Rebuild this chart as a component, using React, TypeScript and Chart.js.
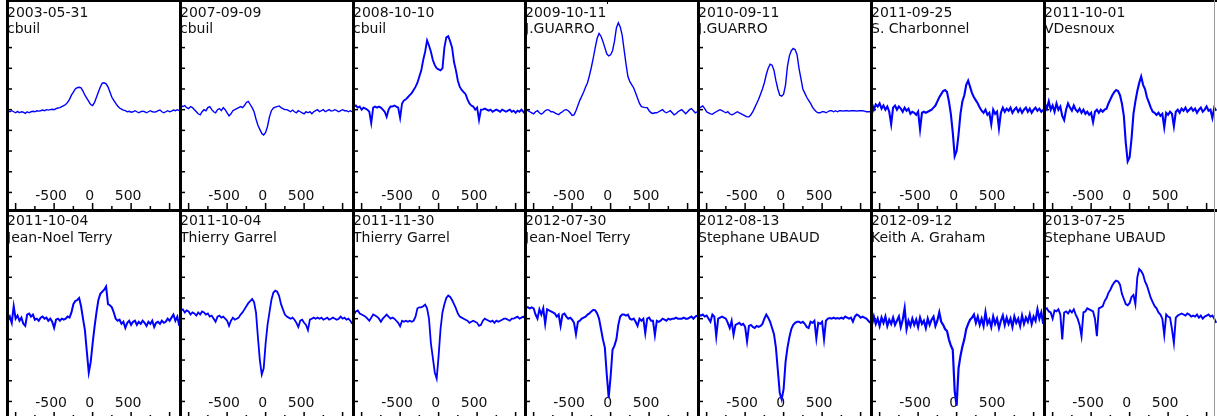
import React, { useEffect, useRef } from "react";
import { Chart, registerables } from "chart.js";

Chart.register(...registerables);

// Radial velocity grid (km/s) shared by all spectra
const velocity = [
  -1125, -1100, -1075, -1050, -1025, -1000, -975, -950, -925, -900,
  -875, -850, -825, -800, -775, -750, -725, -700, -675, -650,
  -625, -600, -575, -550, -525, -500, -475, -450, -425, -400,
  -375, -350, -325, -300, -275, -250, -225, -200, -175, -150,
  -125, -100, -75, -50, -25, 0, 25, 50, 75, 100,
  125, 150, 175, 200, 225, 250, 275, 300, 325, 350,
  375, 400, 425, 450, 475, 500, 525, 550, 575, 600,
  625, 650, 675, 700, 725, 750, 775, 800, 825, 850,
  875, 900, 925, 950, 975, 1000, 1025, 1050, 1075, 1100,
  1125,
];

const flux_2003_05_31 = [
  1.0, 0.995, 0.99, 0.995, 0.99, 0.985, 0.992, 0.985, 0.99, 0.988,
  0.982, 0.99, 0.985, 0.99, 0.992, 0.99, 0.995, 0.993, 0.995, 0.998,
  0.995, 1.0, 0.998, 1.0, 1.002, 1.0, 1.005, 1.008, 1.01, 1.015,
  1.02, 1.025, 1.035, 1.05, 1.07, 1.085, 1.1, 1.106, 1.108, 1.105,
  1.09, 1.07, 1.055, 1.04, 1.025, 1.02, 1.035, 1.06, 1.085, 1.11,
  1.128, 1.13, 1.125, 1.11, 1.085, 1.06, 1.045, 1.03, 1.018, 1.008,
  1.003, 0.998, 0.995, 0.99, 0.992, 0.988, 0.99, 0.995, 0.99, 0.985,
  0.99, 0.993, 0.99, 0.985, 0.99, 0.995, 0.99, 0.988, 0.99, 0.995,
  0.998, 0.99, 0.985, 0.99, 0.995, 0.99, 0.993, 0.998, 0.995, 1.0,
  0.995,
];

const flux_2007_09_09 = [
  1.015, 1.02, 1.015, 1.02, 1.01, 1.005, 1.015, 1.01, 1.0, 0.99,
  0.98, 0.975, 0.99, 1.0, 0.995, 1.01, 1.015, 1.0, 0.99, 0.985,
  1.0, 1.005, 0.995, 1.01, 1.0, 0.985, 0.97, 0.98, 0.995, 1.0,
  1.005, 1.01, 1.015, 1.01, 1.02, 1.035, 1.04, 1.025, 1.01, 0.99,
  0.955, 0.925, 0.905, 0.885, 0.878, 0.89, 0.92, 0.965, 0.995, 1.008,
  1.012, 1.015, 1.018, 1.01, 1.005, 1.0, 1.0, 0.995, 0.99, 0.998,
  0.99, 0.985, 0.995, 0.99, 0.985, 0.98, 0.99, 0.985, 0.99, 0.98,
  0.99, 0.995, 1.0, 0.99, 0.995, 1.0, 0.99, 0.995, 1.0, 0.993,
  0.995, 1.0, 0.995, 0.99, 0.995, 1.0, 0.995, 0.995, 0.99, 0.995,
  0.99,
];

const flux_2008_10_10 = [
  1.01, 1.015, 1.02, 1.01, 1.015, 1.0, 1.01, 1.005, 1.0, 0.99,
  0.935, 1.01, 1.015, 1.01, 1.015, 1.01, 1.0, 0.99, 0.965, 1.0,
  1.015, 1.015, 1.02, 1.015, 1.01, 0.96, 1.03, 1.045, 1.05, 1.06,
  1.07, 1.08, 1.095, 1.11, 1.13, 1.16, 1.19, 1.24, 1.28, 1.335,
  1.31, 1.28, 1.24, 1.215, 1.2, 1.195, 1.19, 1.2, 1.3, 1.35,
  1.355, 1.33, 1.3, 1.23, 1.19, 1.14, 1.11, 1.095, 1.085, 1.075,
  1.05, 1.03, 1.02, 1.015, 1.0, 1.01, 0.95, 1.0, 1.0, 1.005,
  1.0, 0.995, 1.0, 0.99, 0.995, 1.0, 0.995, 0.99, 1.0, 0.995,
  0.99, 0.995, 1.0, 0.99, 0.995, 0.985, 0.995, 0.99, 1.0, 0.99,
  0.98,
];

const flux_2009_10_11 = [
  0.995, 1.0, 0.995, 0.99, 0.985, 0.98, 0.99, 0.995, 0.985, 0.978,
  0.985, 0.995, 1.0, 0.998, 0.99, 0.99, 0.985, 0.98, 0.976, 0.985,
  0.99, 0.998, 1.0, 0.995, 0.985, 0.972, 0.975, 0.995, 1.02, 1.045,
  1.065, 1.085, 1.11, 1.13, 1.165, 1.205, 1.25, 1.3, 1.345, 1.368,
  1.355, 1.33, 1.3, 1.27, 1.26, 1.265, 1.285, 1.33, 1.395, 1.42,
  1.4, 1.36, 1.29, 1.22, 1.16, 1.135, 1.12, 1.105, 1.08, 1.055,
  1.03, 1.015, 1.012, 1.01, 1.01, 0.995, 0.985, 0.982, 0.985, 0.985,
  0.99, 0.995, 1.0, 0.99, 0.985, 0.99, 0.995, 0.985, 0.975, 0.98,
  0.99, 0.995, 1.0, 0.99, 0.98, 0.99, 1.0, 1.005, 0.995, 0.985,
  0.99,
];

const flux_2010_09_11 = [
  1.0, 1.005, 1.012, 1.018, 1.005, 0.99, 0.985, 0.98, 0.978, 0.985,
  0.99, 0.995, 1.0, 0.995, 0.99, 0.985, 0.99, 0.98, 0.975, 0.978,
  0.985, 0.99, 0.985, 0.98, 0.975, 0.97, 0.965, 0.965, 0.975, 0.99,
  1.01, 1.03, 1.05, 1.075, 1.1, 1.13, 1.17, 1.2, 1.22, 1.215,
  1.19, 1.14, 1.1, 1.07, 1.065, 1.075, 1.12, 1.21, 1.26, 1.285,
  1.296, 1.29, 1.265, 1.2, 1.15, 1.1, 1.08, 1.06, 1.045, 1.03,
  1.012, 1.0, 0.99, 0.985, 0.985, 0.99, 0.99, 0.985, 0.99, 0.995,
  0.995, 0.99, 0.995, 0.99, 0.995, 0.995, 0.993, 0.995, 0.995, 0.993,
  0.995, 0.995, 0.995, 0.993, 0.995, 0.995, 0.995, 0.993, 0.99, 0.99,
  0.99,
];

const flux_2011_09_25 = [
  1.02, 1.03, 1.0, 1.025, 1.015, 1.03, 1.005, 1.02, 1.0, 1.015,
  0.99, 0.93, 1.01, 1.02, 1.0, 1.015, 1.005, 0.99, 1.01, 0.995,
  1.005, 0.98, 0.99, 0.985, 0.975, 0.99, 0.905, 0.985, 0.99, 0.985,
  0.99, 0.995, 1.0, 1.01, 1.02, 1.04, 1.06, 1.075, 1.09, 1.095,
  1.085, 1.04, 0.98, 0.89, 0.775, 0.8, 0.88, 0.98, 1.04, 1.07,
  1.12, 1.14, 1.11, 1.08, 1.06, 1.045, 1.03, 1.01, 0.995, 0.985,
  1.0, 0.975, 0.985, 0.93, 1.0, 0.98, 0.99, 0.91, 0.985, 1.01,
  0.99, 1.005, 0.995, 1.01, 0.985, 1.0, 1.01, 0.99, 1.005, 0.985,
  1.0, 1.01, 0.99, 1.005, 0.985, 1.0, 1.01, 0.995, 1.005, 0.99,
  1.0,
];

const flux_2011_10_01 = [
  1.0, 1.03, 1.005, 1.04, 1.0, 1.02, 0.99, 1.03, 1.0, 1.015,
  0.97, 0.95, 1.0, 1.03, 1.01, 0.995, 1.02, 1.0, 0.99, 1.005,
  0.985, 1.0, 0.98, 0.99, 0.975, 0.985, 0.94, 0.99, 1.0, 0.985,
  1.0, 0.99, 1.0, 1.005, 1.03, 1.05, 1.07, 1.085, 1.095, 1.09,
  1.07, 1.03, 0.97, 0.84, 0.75, 0.77, 0.86, 0.98, 1.04, 1.09,
  1.13, 1.16, 1.12, 1.1, 1.06, 1.035, 1.01, 0.99, 0.985, 0.975,
  0.985, 0.97, 0.98, 0.915, 0.985, 0.975, 0.99, 0.98, 0.92, 0.99,
  1.0, 0.985, 1.005, 0.995, 1.01, 0.99, 1.0, 1.01, 0.995, 1.005,
  0.985, 1.0, 1.01, 0.99, 1.0, 1.015, 0.995, 1.0, 0.96, 1.01,
  0.995,
];

const flux_2011_10_04_jnt = [
  1.02, 0.99, 1.01, 0.98, 1.06, 1.0, 1.015, 0.99, 1.005, 0.975,
  0.965, 1.02, 1.025, 1.01, 1.02, 0.995, 1.0, 0.99, 1.005, 1.01,
  1.0, 1.005, 0.99, 1.0, 0.985, 0.955, 0.995, 1.0, 0.99, 1.0,
  0.995, 1.0, 1.01, 1.005, 1.03, 1.07, 1.085, 1.09, 1.1, 1.06,
  1.0, 0.945, 0.84, 0.74, 0.79, 0.88, 0.96, 1.03, 1.09, 1.12,
  1.13, 1.14, 1.155, 1.07, 1.065, 1.055, 1.03, 1.0, 0.99, 0.995,
  0.975, 0.985, 0.955, 0.98, 0.99, 0.97, 0.985, 0.99, 0.97, 0.985,
  0.975, 0.99, 0.98, 0.965, 0.985, 0.975, 0.99, 0.96, 0.98, 0.985,
  0.975, 0.99, 0.98, 0.985, 1.0, 0.99, 1.005, 1.02, 0.99, 1.01,
  0.965,
];

const flux_2011_10_04_tg = [
  1.04, 1.04, 1.045, 1.03, 1.04, 1.035, 1.02, 1.03, 1.025, 1.015,
  1.03, 1.02, 1.035, 1.03, 1.02, 1.025, 1.01, 1.015, 1.0, 0.985,
  1.01, 1.015, 1.005, 1.01, 1.0, 0.99, 0.965, 0.99, 1.005, 0.995,
  1.0, 1.005, 1.02, 1.03, 1.045, 1.06, 1.075, 1.085, 1.095, 1.08,
  1.03, 0.91, 0.8, 0.73, 0.76, 0.88, 0.97, 1.03, 1.09, 1.125,
  1.135, 1.13, 1.11, 1.07, 1.045, 1.02, 1.01, 1.005, 1.0, 1.005,
  0.995, 0.98, 0.96, 0.99, 0.995, 0.98, 0.97, 0.945, 0.995, 1.0,
  1.005, 1.0, 1.005, 1.0, 1.005, 0.995, 1.0, 1.005, 0.995, 1.0,
  1.005, 1.0, 0.995, 1.0, 1.01, 1.0, 1.005, 0.995, 1.0, 0.99,
  0.975,
];

const flux_2011_11_30 = [
  1.01, 1.02, 1.035, 1.04, 1.025, 1.02, 1.015, 1.01, 1.0, 0.99,
  1.005, 1.02, 1.015, 1.01, 1.0, 0.985, 1.0, 1.01, 1.02, 1.01,
  1.0, 1.005, 1.0, 0.99, 0.98, 0.963, 0.99, 0.985, 0.99, 0.985,
  0.99, 0.985, 0.99, 1.01, 1.05, 1.055, 1.055, 1.06, 1.068, 1.05,
  1.0, 0.88, 0.81, 0.74, 0.71, 0.82, 0.95, 1.03, 1.07, 1.1,
  1.112, 1.105, 1.09, 1.07, 1.05, 1.025, 1.01, 1.005, 1.0, 0.995,
  0.99, 0.98, 0.985, 0.99, 0.985, 0.98, 0.965, 0.97, 0.99, 1.0,
  0.995, 0.99, 0.985, 0.99, 0.98, 0.99, 0.985, 0.99, 0.995, 1.0,
  1.0, 0.995, 0.99, 1.0, 1.0, 1.005, 1.01, 1.0, 1.005, 1.01,
  1.0,
];

const flux_2012_07_30 = [
  1.05, 1.055, 1.055, 1.05, 1.055, 1.05, 1.02, 1.0, 1.045, 1.02,
  1.05, 0.975, 1.045, 1.04, 1.035, 1.03, 1.025, 1.01, 1.02, 0.965,
  1.02, 1.025, 1.01, 1.0, 1.005, 0.995, 0.98, 0.925, 0.985, 0.99,
  1.0, 1.005, 1.01, 1.02, 1.025, 1.035, 1.043, 1.04, 1.025, 1.0,
  0.95, 0.9, 0.86, 0.73, 0.617, 0.72, 0.85, 0.87, 0.9, 0.97,
  1.01, 1.02, 1.02, 1.015, 1.02, 1.0, 0.995, 1.0, 0.985, 0.965,
  1.0, 0.99, 1.0, 0.93, 1.0, 1.005, 0.99, 0.99, 0.92, 0.99,
  0.985, 0.99, 1.0, 0.995, 0.99, 1.0, 0.995, 1.0, 1.0, 1.005,
  1.0, 1.0, 1.0, 1.005, 1.0, 1.0, 1.005, 1.01, 1.0, 1.01,
  1.015,
];

const flux_2012_08_13 = [
  1.02, 1.02, 1.015, 1.02, 1.01, 1.015, 1.0, 0.985, 1.02, 1.01,
  0.914, 1.0, 1.005, 1.01, 1.005, 1.0, 0.98, 0.955, 0.99, 0.923,
  0.97, 0.975, 0.98, 0.97, 0.975, 0.96, 0.89, 0.965, 0.97, 0.96,
  0.955, 0.965, 0.96, 0.965, 0.975, 1.0, 1.02, 1.005, 0.985, 0.955,
  0.925, 0.86, 0.75, 0.64, 0.61, 0.66, 0.79, 0.86, 0.91, 0.95,
  0.97, 0.98, 0.985, 0.985, 0.98, 0.985, 0.975, 0.96, 0.955, 0.985,
  0.98, 0.99, 0.905, 0.98, 0.975, 0.985, 0.9, 0.99, 1.0, 1.003,
  1.0, 1.005, 1.0, 1.003, 1.0, 1.005, 1.0, 1.01, 1.005, 1.0,
  1.005, 0.985, 1.01, 1.02, 1.015, 1.005, 1.01, 1.005, 1.0, 0.99,
  0.98,
];

const flux_2012_09_12 = [
  1.0, 0.97, 1.01, 0.975, 1.0, 0.965, 1.005, 0.98, 1.01, 0.965,
  0.995, 0.975, 1.005, 0.97, 0.99, 1.01, 0.96, 0.995, 1.05, 0.95,
  0.99, 0.965, 1.0, 0.97, 0.995, 0.96, 1.005, 0.975, 0.99, 0.955,
  1.0, 0.97, 0.995, 1.01, 0.965, 0.99, 1.03, 0.985, 0.97, 0.95,
  0.94, 0.9, 0.87, 0.85, 0.65, 0.58, 0.76, 0.82, 0.865, 0.9,
  0.95, 0.975, 0.995, 1.005, 1.02, 0.98, 1.01, 0.97, 1.0, 0.965,
  1.03, 0.975, 0.995, 0.96, 1.01, 0.975, 1.0, 0.955, 0.99, 1.015,
  0.97, 1.005, 0.975, 1.0, 0.96, 1.01, 0.98, 1.0, 0.965, 1.015,
  0.975, 1.005, 0.985, 1.02, 0.975, 1.01, 0.99, 1.045, 1.0, 1.03,
  0.975,
];

const flux_2013_07_25 = [
  1.04, 1.045, 1.05, 1.035, 1.03, 1.0, 1.04, 1.035, 1.045, 1.02,
  0.9, 1.03, 1.035, 1.025, 1.04, 1.03, 1.045, 1.02, 1.0, 0.97,
  0.915, 1.03, 1.035, 1.05, 1.045, 1.04, 1.035, 1.0, 0.915, 1.05,
  1.055, 1.06, 1.085, 1.1, 1.125, 1.14, 1.16, 1.175, 1.184, 1.18,
  1.165, 1.12, 1.095, 1.07, 1.065, 1.075, 1.105, 1.115, 1.07, 1.2,
  1.24, 1.23, 1.213, 1.18, 1.16, 1.13, 1.1, 1.08, 1.06, 1.05,
  1.03, 1.02, 1.0, 0.92, 1.02, 1.01, 1.005, 0.95, 0.882, 1.005,
  1.015, 1.02, 1.025, 1.02, 1.015, 1.025, 1.02, 1.01, 1.015, 1.01,
  1.02, 1.005, 1.015, 1.0, 1.01, 1.015, 1.02, 1.01, 1.015, 1.0,
  0.98,
];

const dates = [
  "2003-05-31", "2007-09-09", "2008-10-10", "2009-10-11", "2010-09-11", "2011-09-25", "2011-10-01",
  "2011-10-04", "2011-10-04", "2011-11-30", "2012-07-30", "2012-08-13", "2012-09-12", "2013-07-25",
];
const observers = [
  "cbuil", "cbuil", "cbuil", "J.GUARRO", "J.GUARRO", "S. Charbonnel", "VDesnoux",
  "Jean-Noel Terry", "Thierry Garrel", "Thierry Garrel", "Jean-Noel Terry", "Stephane UBAUD", "Keith A. Graham", "Stephane UBAUD",
];
const fluxes = [
  flux_2003_05_31, flux_2007_09_09, flux_2008_10_10, flux_2009_10_11, flux_2010_09_11, flux_2011_09_25, flux_2011_10_01,
  flux_2011_10_04_jnt, flux_2011_10_04_tg, flux_2011_11_30, flux_2012_07_30, flux_2012_08_13, flux_2012_09_12, flux_2013_07_25,
];
// line weight per spectrum (noisier spectra look denser in the reference)
const lineWidths = [1.4, 1.4, 1.9, 1.4, 1.4, 2.1, 2.1, 2.0, 1.8, 1.8, 2.0, 2.0, 2.2, 1.9];

const xTicks = [-1000, -750, -500, -250, 0, 250, 500, 750, 1000];
const xLabels = [-500, 0, 500];
const yTicks = [0.6, 0.7, 0.8, 0.9, 1.0, 1.1, 1.2, 1.3, 1.4, 1.5];

const COL_LEFT = [6, 179, 352, 524, 697, 870, 1043];
const ROW_TOP = [0, 209];
const PW = 174;
const PH = 209;
const FONT = '14px "DejaVu Sans"';

function Panel({ idx }: { idx: number }) {
  const ref = useRef<HTMLCanvasElement | null>(null);
  const row = idx < 7 ? 0 : 1;
  const col = idx % 7;
  useEffect(() => {
    const canvas = ref.current;
    if (!canvas) return;
    const flux = fluxes[idx];
    const pts = velocity.map((v, i) => ({ x: v, y: flux[i] }));
    const deco = {
      id: "deco",
      beforeDatasetsDraw(chart: any) {
        const { ctx, height: H } = chart;
        const xs = chart.scales.x;
        const ys = chart.scales.y;
        ctx.save();
        ctx.fillStyle = "#000";
        for (const t of yTicks) {
          const py = ys.getPixelForValue(t);
          ctx.fillRect(0, py - 0.75, 6, 1.5);
        }
        for (const t of xTicks) {
          const px = xs.getPixelForValue(t);
          const len = Math.abs(t) % 500 === 0 ? 6 : 3;
          ctx.fillRect(px - 0.75, H - len, 1.5, len);
        }
        ctx.font = FONT;
        ctx.textAlign = "center";
        ctx.textBaseline = "alphabetic";
        ctx.fillStyle = "#111";
        const lb = row === 0 ? 200 : 198;
        for (const t of xLabels) {
          ctx.fillText(String(t), xs.getPixelForValue(t) - 3, lb);
        }
        ctx.textAlign = "left";
        const b1 = row === 0 ? 17 : 16;
        const b2 = 33;
        const w1 = ctx.measureText(dates[idx]).width;
        const w2 = ctx.measureText(observers[idx]).width;
        ctx.fillStyle = "#fff";
        ctx.fillRect(1, b1 - 12, w1 + 1, 15);
        ctx.fillRect(1, b2 - 12, w2 + 1, 15);
        ctx.fillStyle = "#111";
        ctx.fillText(dates[idx], 1, b1);
        ctx.fillText(observers[idx], 1, b2);
        ctx.restore();
      },
      afterDraw(chart: any) {
        const { ctx, width: W, height: H } = chart;
        ctx.save();
        ctx.fillStyle = "#000";
        ctx.fillRect(0, 0, 3, H);
        ctx.fillRect(0, 0, W, row === 0 ? 2 : 3);
        ctx.restore();
      },
    };
    const chart = new Chart(canvas, {
      type: "line",
      data: {
        datasets: [
          {
            data: pts,
            borderColor: "#0000ff",
            borderWidth: lineWidths[idx],
            pointRadius: 0,
            tension: 0,
            fill: false,
          },
        ],
      },
      options: {
        animation: false,
        responsive: false,
        maintainAspectRatio: false,
        events: [],
        layout: { padding: 0 },
        plugins: { legend: { display: false }, tooltip: { enabled: false } },
        scales: {
          x: { type: "linear", min: -1125, max: 1135, display: false },
          y: { type: "linear", min: 0.52, max: 1.53, display: false },
        },
      },
      plugins: [deco],
    } as any);
    return () => chart.destroy();
  }, [idx]);
  return (
    <canvas
      ref={ref}
      width={PW}
      height={PH}
      style={{ position: "absolute", left: COL_LEFT[col], top: ROW_TOP[row], width: PW, height: PH }}
    />
  );
}

export default function App() {
  return (
    <div
      style={{
        position: "absolute",
        left: 0,
        top: 0,
        width: 1217,
        height: 416,
        overflow: "hidden",
        background: "#fff",
      }}
    >
      {dates.map((_, i) => (
        <Panel key={i} idx={i} />
      ))}
      <div style={{ position: "absolute", left: 1214, top: 0, width: 1, height: 416, background: "#9a9a9a" }} />
      <div style={{ position: "absolute", left: 607, top: 0, width: 1, height: 4, background: "#000" }} />
    </div>
  );
}
